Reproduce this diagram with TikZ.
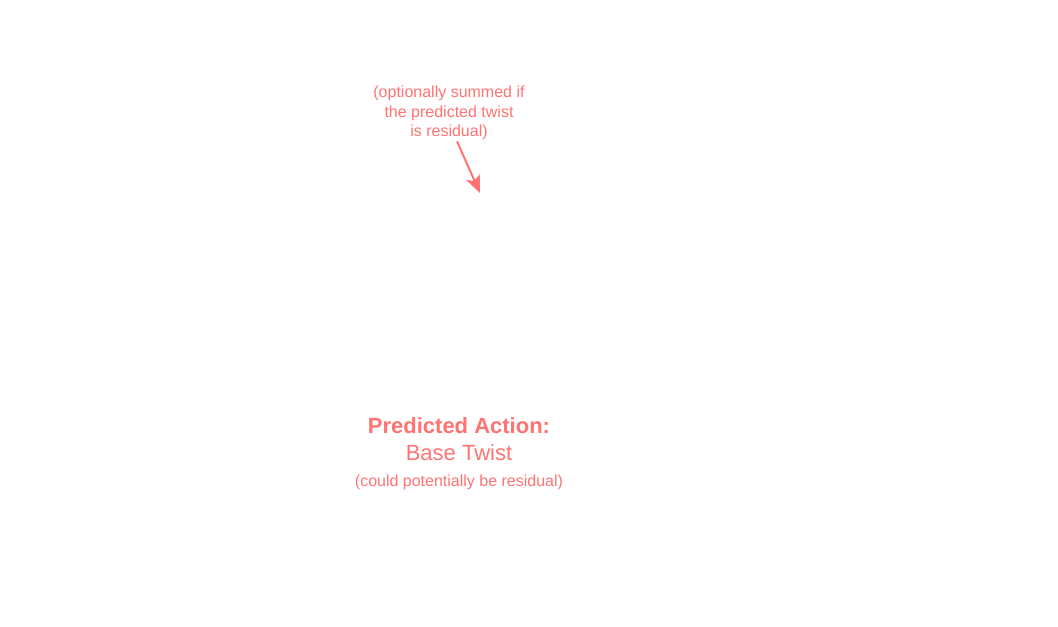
\documentclass[tikz,border=0pt]{standalone}
\usepackage{fontspec}
\setmainfont{Liberation Sans}
\definecolor{notered}{RGB}{255,115,115}
\usetikzlibrary{arrows.meta,positioning}

\begin{document}
\begin{tikzpicture}[x=0.75pt, y=-0.75pt,
  notetext/.style={text=notered, align=center, inner sep=1pt, font=\fontsize{12}{14.5}\selectfont},
  actiontext/.style={text=notered, align=center, inner sep=1pt, font=\fontsize{16.5}{20}\selectfont},
  notearrow/.style={draw=notered, line width=1.5pt, -{Stealth[length=13pt, width=11pt, inset=3pt]}}]

\useasboundingbox (0,0) rectangle (1058,626);

\node[notetext] (note) at (449,113) {(optionally summed if\\the predicted twist\\is residual)};
\coordinate (tip) at (480,193);

\node[actiontext] (action) at (459,454) {%
  \textbf{Predicted Action:}\\
  Base Twist\\
  {\fontsize{12}{20}\selectfont (could potentially be residual)}};

\draw[notearrow] ([xshift=6pt]note.south) -- (tip);

\end{tikzpicture}
\end{document}
